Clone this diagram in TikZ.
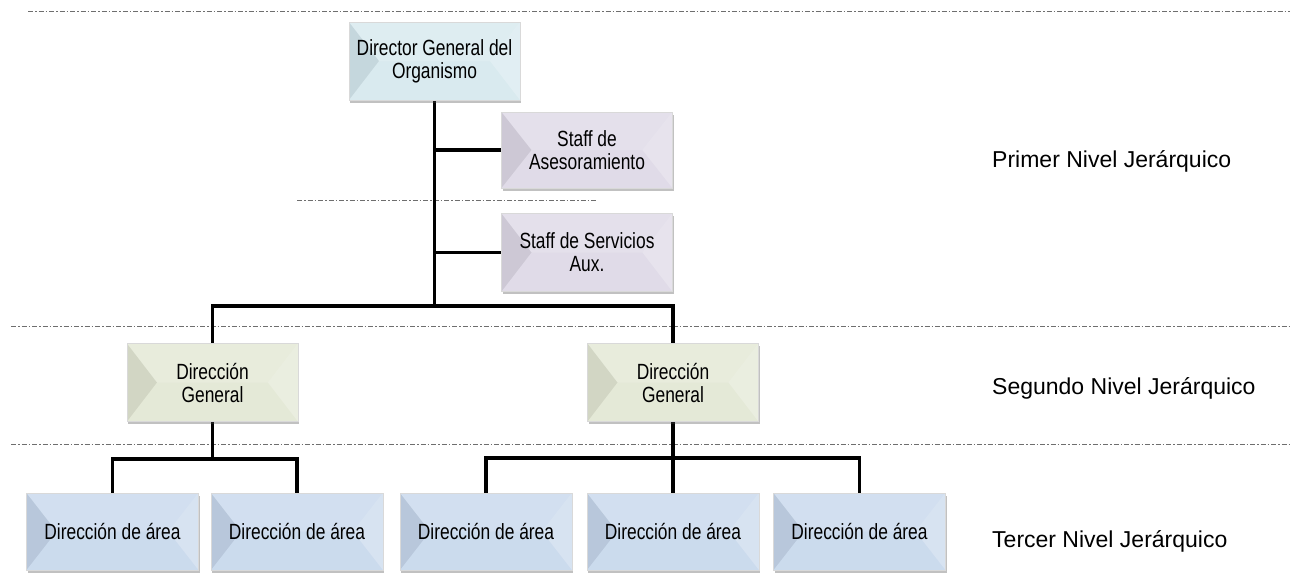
\documentclass[tikz,border=0pt]{standalone}
\usepackage{fontspec}
\setmainfont{Liberation Sans}
\newfontfamily\boxfont[FakeStretch=0.79]{Liberation Sans}
\usetikzlibrary{shadows}
\pgfdeclarelayer{background}
\pgfsetlayers{background,main}
\definecolor{cTop}{HTML}{D5E8EE}
\definecolor{cStaff}{HTML}{DDD8E6}
\definecolor{cDG}{HTML}{E2E7D3}
\definecolor{cArea}{HTML}{C6D7EC}
\definecolor{sepgray}{HTML}{6E6E6E}
\tikzset{
  bevbox/.style={rectangle, fill=#1, draw=black!15, line width=0.5pt,
    minimum width=171pt, minimum height=78pt, inner sep=0pt, align=center,
    font=\boxfont\fontsize{22}{23}\selectfont, text=black,
    drop shadow={shadow xshift=1.2pt, shadow yshift=-2.5pt, opacity=0.35, fill=black!70},
    path picture={
      \fill[black,opacity=0.07] (path picture bounding box.north west) -- (path picture bounding box.south west) -- ([xshift=30pt]path picture bounding box.west) -- cycle;
      \fill[white,opacity=0.22] (path picture bounding box.north west) -- (path picture bounding box.north east) -- ([xshift=-30pt]path picture bounding box.east) -- ([xshift=30pt]path picture bounding box.west) -- cycle;
      \fill[white,opacity=0.30] (path picture bounding box.north east) -- (path picture bounding box.south east) -- ([xshift=-30pt]path picture bounding box.east) -- cycle;
      \fill[white,opacity=0.10] (path picture bounding box.south west) -- (path picture bounding box.south east) -- ([xshift=-30pt]path picture bounding box.east) -- ([xshift=30pt]path picture bounding box.west) -- cycle;
    }},
  areabox/.style={bevbox=cArea, minimum width=172pt, minimum height=77pt},
  conn/.style={line width=3.3pt, black},
  sepline/.style={sepgray, line width=1pt, dash pattern=on 5pt off 2pt on 1.5pt off 2pt},
  levellabel/.style={font=\fontsize{23}{26}\selectfont, anchor=base west, inner sep=0pt}
}
\begin{document}
\begin{tikzpicture}[x=1pt,y=-1pt]
\useasboundingbox (0,0) rectangle (1290,579);

\node[bevbox=cTop] (dir) at (434.5,61) {Director General del\\Organismo};
\node[bevbox=cStaff, minimum height=76pt] (ase) at (587,150) {Staff de\\Asesoramiento};
\node[bevbox=cStaff] (ser) at (587,252.5) {Staff de Servicios\\Aux.};
\node[bevbox=cDG] (dg1) at (212.5,382.5) {Dirección\\General};
\node[bevbox=cDG] (dg2) at (673,382.5) {Dirección\\General};
\node[areabox] (a1) at (112.5,531.5) {Dirección de área};
\node[areabox] (a2) at (297,531.5) {Dirección de área};
\node[areabox] (a3) at (486,531.5) {Dirección de área};
\node[areabox] (a4) at (673,531.5) {Dirección de área};
\node[areabox] (a5) at (859.5,531.5) {Dirección de área};

\node[levellabel] (l1) at (992,167) {Primer Nivel Jerárquico};
\node[levellabel] (l2) at (992,394) {Segundo Nivel Jerárquico};
\node[levellabel] (l3) at (992,547) {Tercer Nivel Jerárquico};

\coordinate (bus1) at (434.5,306);
\coordinate (bus2) at (212.5,459);
\coordinate (bus3) at (673,458);

\begin{pgfonlayer}{background}
\draw[sepline] (28,11.5) -- (1290,11.5);
\draw[sepline] (11,326) -- (1290,326);
\draw[sepline] (11,444.5) -- (1290,444.5);
\draw[sepline] (297,200) -- (596,200);

\draw[conn] (dir.south) -- (bus1);
\draw[conn] (dg1.north) |- (bus1) -| (dg2.north);
\draw[conn] (dir.south |- ase.west) -- (ase.west);
\draw[conn] (dir.south |- ser.west) -- (ser.west);
\draw[conn] (dg1.south) -- (bus2);
\draw[conn] (a1.north) |- (bus2) -| (a2.north);
\draw[conn] (dg2.south) -- (bus3);
\draw[conn] (a3.north) |- (bus3) -| (a5.north);
\draw[conn] (bus3) -- (a4.north);
\end{pgfonlayer}
\end{tikzpicture}
\end{document}
